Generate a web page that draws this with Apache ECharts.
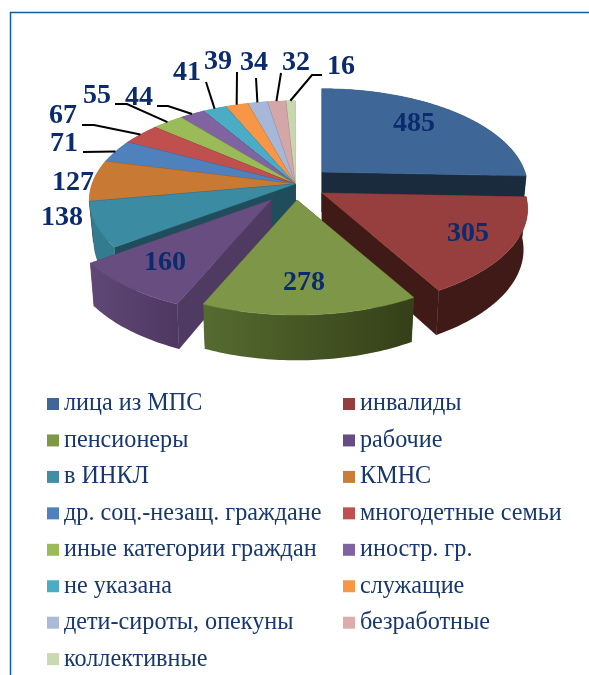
<!DOCTYPE html>
<html><head><meta charset="utf-8">
<style>html,body{margin:0;padding:0;background:#fff}#c{width:589px;height:675px}</style>
<script src="https://cdn.jsdelivr.net/npm/echarts@6/dist/echarts.min.js"></script>
</head><body><div id="c"></div>
<script>
const categories = ['лица из МПС','инвалиды','пенсионеры','рабочие','в ИНКЛ','КМНС','др. соц.-незащ. граждане','многодетные семьи','иные категории граждан','иностр. гр.','не указана','служащие','дети-сироты, опекуны','безработные','коллективные'];
const values = [485,305,278,160,138,127,71,67,55,44,41,39,34,32,16];

const topColors = ['#3e6797','#963f3e','#7e9647','#674d80','#3b8ba3','#c87934','#4f81bd','#c0504d','#9bbb59','#8064a2','#4bacc6','#f79646','#a6b7d8','#d5a6a8','#c8d8ae'];
const legendColors = ['#3f6797','#963d3d','#7f9746','#664e84','#3f8ea3','#ca7d37','#4f81bd','#c0504d','#9bbb59','#8064a2','#4bacc6','#f79646','#aabbd8','#dbadad','#c9d9b0'];
const cutColors = ['#1b2b3e','#3f1a17','#3a4a20','#4f3a62','#1f4d5c','#6e4520','#2b4768','#6a2c2a','#556731','#463759','#2a5f6d','#884f25','#5c6577','#755b5c','#6e7760'];
const outerLeft = ['#1b2b3e','#3f1a17','#556b30','#5f4876','#337b8e','#a0622a','#3f6797','#963f3e','#7e9647','#674d80','#3b8ba3','#c87934','#8593ad','#aa8586','#a0ad8b'];
const outerRight = ['#1b2b3e','#3f1a17','#353f18','#4e3760','#337b8e','#a0622a','#3f6797','#963f3e','#7e9647','#674d80','#3b8ba3','#c87934','#8593ad','#aa8586','#a0ad8b'];

// where each slice's apex sits (exploded slices are shifted), draw order back to front
const apexPositions = [[322,172],[322,193],[297,200],[271,200],[295,184],[295,184],[295,184],[295,184],[295,184],[295,184],[295,184],[295,184],[295,184],[295,184],[295,184]];
const drawOrder = [14,13,12,11,10,9,8,7,6,5,4,0,1,3,2];

// label centres, plus optional leader start / knee (the leader end follows the slice's arc)
const labelCentres = [[414,124],[468,234],[304,283],[165,263],[62,218],[73,183],[64,144],[63,116],[97,96],[139,98],[187,73],[218,62],[254,63],[296,63],[341,67]];
const leaderPaths = [null,null,null,null,null,null,[[83,152]],[[82,125],[94,125]],[[115,104],[127,104]],[[157,106],[168,106]],[[206,82]],[[237,72]],[[256,78]],[[281,73]],[[322,75],[312,75]]];

const leftLegend = categories.filter((_, i) => i % 2 === 0);
const rightLegend = categories.filter((_, i) => i % 2 === 1);

// perspective of the tilted pie
const RX = 203, Q = 96.6, P = 0.16, DEPTH = 40, SHRINK = 0.98;
const total = values.reduce((a, b) => a + b, 0);
const starts = [];
values.reduce((acc, v, i) => { starts[i] = acc; return acc + v; }, 0);

function project(apex, deg, lower) {
  const a = deg * Math.PI / 180;
  const X = Math.sin(a), Z = -Math.cos(a);
  const s = 1 / (1 - P * Z);
  let x = X * RX * s, y = Z * Q * s;
  if (lower) { x *= SHRINK; y = y * SHRINK + DEPTH * s; }
  return [apex[0] + x, apex[1] + y];
}
function arc(apex, d0, d1, lower) {
  const pts = [], n = Math.max(2, Math.ceil(d1 - d0));
  for (let k = 0; k <= n; k++) pts.push(project(apex, d0 + (d1 - d0) * k / n, lower));
  return pts;
}
function apexBelow(apex) { return [apex[0], apex[1] + DEPTH]; }
function flat(pts, c) {
  return { type: 'polygon', shape: { points: pts }, style: { fill: c, stroke: c, lineWidth: 0.5 }, silent: true };
}

function makeRender(i) {
  return function () {
    const apex = apexPositions[i];
    const d0 = starts[i] / total * 360, d1 = (starts[i] + values[i]) / total * 360;
    const upper = arc(apex, d0, d1, false), lower = arc(apex, d0, d1, true);
    const children = [];
    const grad = { type: 'linear', x: 0, y: 0, x2: 1, y2: 0, colorStops: [{ offset: 0, color: outerLeft[i] }, { offset: 1, color: outerRight[i] }] };
    const back = apexBelow(apex);
    children.push(flat([apex, upper[upper.length - 1], lower[lower.length - 1], back], cutColors[i]));
    children.push(flat([apex, upper[0], lower[0], back], cutColors[i]));
    children.push({ type: 'polygon', shape: { points: upper.concat(lower.slice().reverse()) }, style: { fill: grad }, silent: true });
    children.push(flat([apex].concat(upper), topColors[i]));
    if (leaderPaths[i]) {
      const end = project(apex, (d0 + d1) / 2, false);
      children.push({ type: 'polyline', shape: { points: leaderPaths[i].concat([end]) }, style: { stroke: '#000', lineWidth: 2, fill: null }, silent: true });
    }
    const c = labelCentres[i];
    children.push({ type: 'text', style: { text: String(values[i]), x: c[0], y: c[1], font: 'bold 28px "Liberation Serif"', fill: '#0c2b6e', align: 'center', verticalAlign: 'middle' }, silent: true });
    return { type: 'group', children };
  };
}

const series = categories.map((name, i) => ({
  type: 'custom', name, coordinateSystem: 'none', z: 2 + drawOrder.indexOf(i),
  data: [[values[i]]], renderItem: makeRender(i), silent: true,
  itemStyle: { color: legendColors[i] }, animation: false
}));

const legendBase = {
  orient: 'vertical', top: 392, height: 400, itemWidth: 12, itemHeight: 12, itemGap: 12.45, icon: 'rect', selectedMode: false,
  padding: 0, textStyle: { fontFamily: 'Liberation Serif', fontSize: 24.2, color: '#17376e' }
};

const chart = echarts.init(document.getElementById('c'), null, { renderer: 'canvas' });
chart.setOption({
  animation: false, backgroundColor: '#fff', tooltip: { show: false },
  legend: [
    Object.assign({}, legendBase, { left: 47, data: leftLegend }),
    Object.assign({}, legendBase, { left: 343, data: rightLegend })
  ],
  graphic: [{ type: 'polyline', shape: { points: [[10.5, 675], [10.5, 12.5], [589, 12.5]] }, style: { stroke: '#1257a8', lineWidth: 1.5, fill: null }, silent: true }],
  series
});
</script></body></html>
